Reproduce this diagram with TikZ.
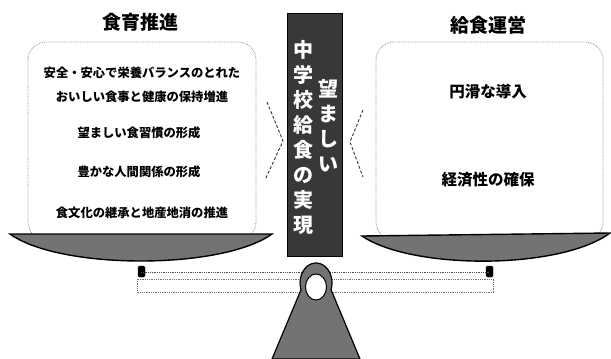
\documentclass[tikz,border=0pt]{standalone}
\usepackage{fontspec}
\setmainfont{Noto Sans CJK JP}[BoldFont={Noto Sans CJK JP Black}]
\begin{document}
\begin{tikzpicture}[x=1pt,y=-1pt,
  title/.style={font=\bfseries\fontsize{19}{22}\selectfont},
  ltext/.style={font=\bfseries\fontsize{12.3}{14}\selectfont},
  rtext/.style={font=\bfseries\fontsize{15.5}{18}\selectfont},
  panbox/.style={draw=black!45, densely dotted, rounded corners=18pt, line width=0.8pt},
  pan/.style={fill=black!55, draw=black, line width=1.4pt},
  chev/.style={draw=black!80, densely dashed, line width=0.9pt},
  vtext/.style={text=white, font=\bfseries\fontsize{20}{25}\selectfont, align=center, inner sep=0pt},
  hook/.style={fill=black, draw=black, rounded corners=1.5pt}]
\useasboundingbox (0,0) rectangle (611,359);
% boxes
\draw[panbox] (28,42) rectangle (256,240);
\draw[panbox] (376,42) rectangle (603,240);
% titles
\node[title] (lt) at (140,22) {食育推進};
\node[title] (rt) at (488,25) {給食運営};
% left texts
\node[ltext] (l1) at (142,73) {安全・安心で栄養バランスのとれた};
\node[ltext] (l2) at (142,97) {おいしい食事と健康の保持増進};
\node[ltext] (l3) at (139,133) {望ましい食習慣の形成};
\node[ltext] (l4) at (139,172) {豊かな人間関係の形成};
\node[ltext] (l5) at (142,213) {食文化の継承と地産地消の推進};
% right texts
\node[rtext] (r1) at (488,92) {円滑な導入};
\node[rtext] (r2) at (488,180) {経済性の確保};
% pans
\draw[pan] (10,234) .. controls (60,270) and (222,270) .. (272,234) -- cycle;
\draw[pan] (362,236) .. controls (412,270) and (560,270) .. (610,233) -- cycle;
% hooks and beam
\coordinate (hl) at (141,272);
\coordinate (hr) at (489,272);
\fill[hook] (138,266) rectangle (145,277);
\fill[hook] (486,266) rectangle (493,277);
\draw[black!55, densely dotted, line width=0.8pt] (137,279) rectangle (493,292);
\draw[black!70, densely dotted, line width=0.8pt] (hl) -- (hr);
% chevrons
\draw[chev] (267,102) -- (283,141) -- (265,180);
\draw[chev] (363,110) -- (350,142) -- (363,177);
% center bar
\node[fill=black!78, draw=black, line width=1pt, minimum width=55pt, minimum height=243pt, inner sep=0pt] (bar) at (315,134.5) {};
\node[vtext] (vl) at (303,137.5) {中\\学\\校\\給\\食\\の\\実\\現};
\node[vtext] (vr) at (328,126) {望\\ま\\し\\い};
% fulcrum
\draw[fill=black!55, draw=black, line width=1.2pt]
  (301,289.8) arc[start angle=160, end angle=380, x radius=16, y radius=20]
  -- (360,359) -- (272,359) -- cycle;
\draw[fill=white, draw=black, line width=1pt] (316,287) ellipse[x radius=10.5, y radius=13];
\end{tikzpicture}
\end{document}
